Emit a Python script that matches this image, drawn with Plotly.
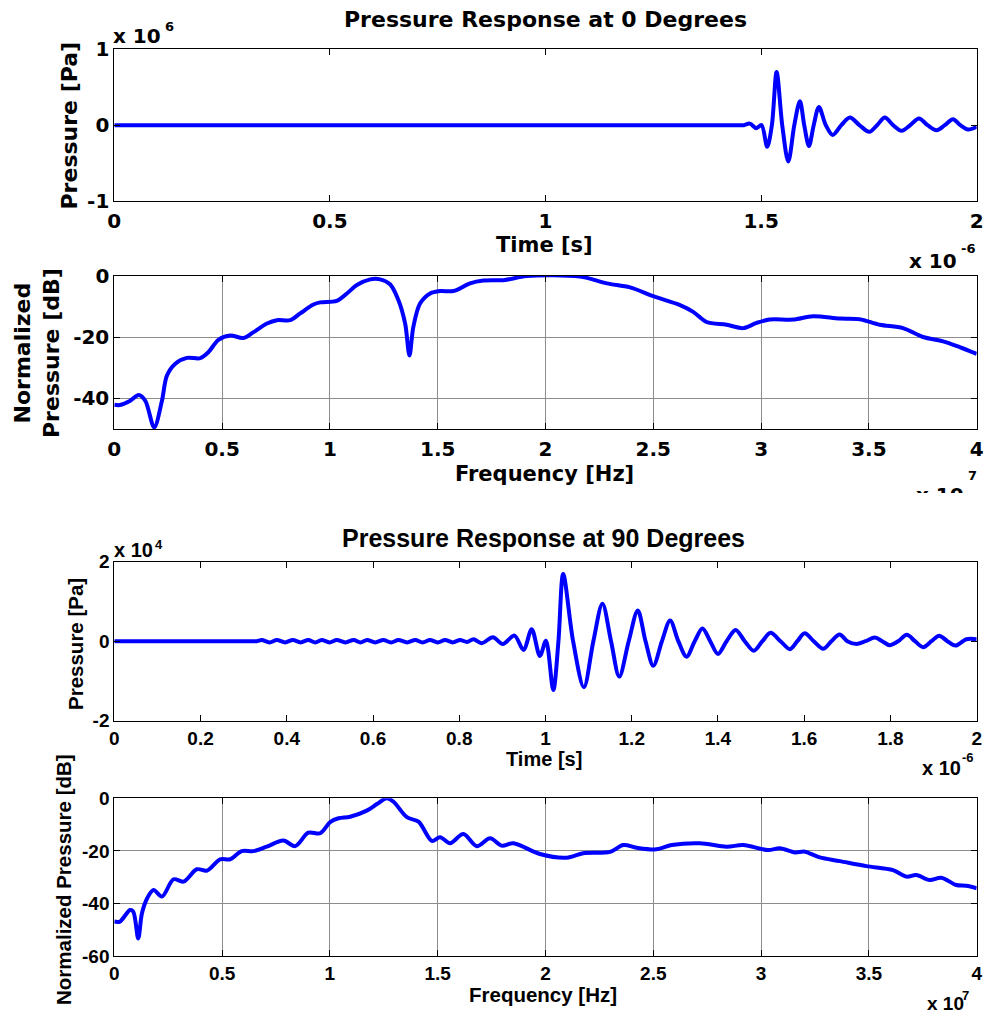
import plotly.graph_objects as go

W, H = 986, 1015

# ---- 0 degrees: time trace (time in 1e-6 s, pressure in 1e6 Pa) ----
t_0deg = [0, 0.4, 0.8, 1.2, 1.40, 1.45, 1.46, 1.474, 1.489, 1.501, 1.514, 1.525, 1.536,
          1.549, 1.563, 1.577, 1.590, 1.600, 1.611, 1.622, 1.634, 1.650, 1.666, 1.686,
          1.706, 1.728, 1.751, 1.769, 1.787, 1.806, 1.826, 1.846, 1.866, 1.886, 1.907,
          1.926, 1.945, 1.962, 1.980, 2.0]
p_0deg = [0, 0, 0, 0, 0, 0, 0, 0.02, -0.04, 0.0, -0.285, 0.0, 0.70,
          0.0, -0.48, 0.0, 0.316, 0.0, -0.276, 0.0, 0.24, 0.0, -0.13, 0.0,
          0.10, 0.0, -0.088, 0.0, 0.10, 0.0, -0.075, 0.0, 0.088, 0.0, -0.066,
          0.0, 0.079, 0.0, -0.057, -0.02]

# ---- 0 degrees: spectrum (frequency in 1e7 Hz) ----
f_0deg = [0, 0.026, 0.074, 0.113, 0.144, 0.185, 0.221, 0.244, 0.283, 0.337, 0.399, 0.437,
          0.483, 0.538, 0.599, 0.646, 0.708, 0.754, 0.816, 0.862, 0.924, 0.955, 1.032,
          1.079, 1.125, 1.187, 1.233, 1.279, 1.318, 1.349, 1.369, 1.387, 1.418, 1.465,
          1.511, 1.573, 1.650, 1.712, 1.812, 1.913, 2.160, 2.284, 2.392, 2.500, 2.624,
          2.685, 2.747, 2.840, 2.917, 2.979, 3.040, 3.149, 3.241, 3.365, 3.457, 3.550,
          3.658, 3.751, 3.844, 3.921, 4.0]
db_0deg = [-42.1, -42.2, -40.8, -38.9, -40.8, -49.5, -40.8, -32.6, -28.7, -26.8, -26.9, -24.9,
           -20.9, -19.5, -20.3, -18.4, -15.6, -14.5, -14.5, -12.3, -9.4, -8.7, -8.2,
           -5.8, -3.05, -1.2, -1.2, -2.8, -8.0, -15.6, -26.0, -16.7, -9.1, -5.8,
           -5.0, -5.0, -2.5, -1.6, -1.4, -0.1, -0.3, -2.5, -3.8, -6.7, -9.6,
           -11.8, -15.1, -16.0, -17.1, -15.4, -14.3, -14.3, -13.2, -14.0, -14.2, -16.0,
           -17.1, -20.0, -21.4, -23.3, -25.5]

# ---- 90 degrees: time trace (time in 1e-6 s, pressure in 1e4 Pa) ----
t_90deg = [0, 0.1, 0.2, 0.28, 0.31, 0.33, 0.342, 0.360, 0.377, 0.396, 0.414, 0.432, 0.450,
           0.466, 0.481, 0.499, 0.516, 0.536, 0.555, 0.571, 0.586, 0.605, 0.624, 0.642,
           0.659, 0.679, 0.698, 0.715, 0.732, 0.750, 0.767, 0.785, 0.802, 0.818, 0.833,
           0.852, 0.878, 0.901, 0.928, 0.949, 0.968, 0.987, 1.001, 1.018, 1.030, 1.041,
           1.064, 1.089, 1.111, 1.132, 1.152, 1.171, 1.193, 1.214, 1.232, 1.250, 1.270,
           1.289, 1.308, 1.327, 1.346, 1.364, 1.382, 1.400, 1.420, 1.441, 1.462, 1.483,
           1.503, 1.522, 1.545, 1.567, 1.584, 1.601, 1.622, 1.644, 1.663, 1.682, 1.700,
           1.721, 1.742, 1.764, 1.781, 1.798, 1.818, 1.838, 1.857, 1.876, 1.895, 1.913,
           1.932, 1.951, 1.976, 2.0]
p_90deg = [0, 0, 0, 0, 0, 0, 0.03, -0.03, 0.03, -0.03, 0.03, -0.03, 0.03,
           -0.03, 0.03, -0.03, 0.03, -0.03, 0.03, -0.03, 0.03, -0.03, 0.03, -0.03,
           0.03, -0.03, 0.03, -0.03, 0.03, -0.03, 0.03, -0.03, 0.03, -0.02, 0.05,
           -0.05, 0.10, -0.07, 0.14, -0.22, 0.30, -0.37, 0.01, -1.23, 0.0, 1.69,
           0.0, -1.16, 0.0, 0.94, 0.0, -0.89, 0.0, 0.77, 0.0, -0.62, 0.0,
           0.52, 0.0, -0.39, 0.0, 0.32, 0.0, -0.32, 0.0, 0.28, 0.0, -0.24,
           0.0, 0.21, 0.0, -0.20, 0.0, 0.20, 0.0, -0.19, 0.0, 0.17, 0.0,
           -0.07, 0.0, 0.09, 0.0, -0.10, 0.0, 0.16, 0.0, -0.15, 0.0, 0.14,
           0.0, -0.11, 0.05, 0.05]

# ---- 90 degrees: spectrum (frequency in 1e7 Hz) ----
f_90deg = [0, 0.026, 0.073, 0.088, 0.111, 0.128, 0.152, 0.182, 0.221, 0.275, 0.321, 0.383,
           0.430, 0.491, 0.537, 0.591, 0.645, 0.707, 0.784, 0.839, 0.900, 0.955, 1.001,
           1.040, 1.094, 1.171, 1.218, 1.264, 1.295, 1.357, 1.411, 1.473, 1.511, 1.557,
           1.619, 1.681, 1.743, 1.797, 1.851, 1.974, 2.098, 2.175, 2.299, 2.361, 2.423,
           2.515, 2.585, 2.716, 2.840, 2.917, 3.033, 3.087, 3.157, 3.203, 3.272, 3.365,
           3.488, 3.612, 3.674, 3.720, 3.782, 3.836, 3.905, 3.951, 4.0]
db_90deg = [-46.9, -46.9, -42.5, -43.1, -53.3, -43.8, -38.1, -34.9, -37.4, -30.8, -31.7, -27.0,
            -27.5, -23.2, -23.2, -20.1, -20.1, -18.4, -16.1, -18.2, -13.1, -13.3, -9.1,
            -7.6, -7.0, -4.7, -2.2, 0.0, -1.3, -7.2, -8.9, -16.2, -14.8, -17.1,
            -13.6, -18.2, -15.2, -18.0, -17.1, -21.2, -22.6, -20.9, -20.4, -17.8, -18.8,
            -19.4, -17.8, -17.1, -18.4, -17.8, -19.7, -19.0, -20.6, -20.3, -22.5, -23.9,
            -25.8, -27.3, -29.8, -29.2, -31.1, -30.2, -33.0, -33.3, -34.2]

# tick values / labels
time_ticks_0 = [0, 0.5, 1, 1.5, 2]
time_labels_0 = ["0", "0.5", "1", "1.5", "2"]
freq_ticks = [0, 0.5, 1, 1.5, 2, 2.5, 3, 3.5, 4]
freq_labels = ["0", "0.5", "1", "1.5", "2", "2.5", "3", "3.5", "4"]
time_ticks_90 = [0, 0.2, 0.4, 0.6, 0.8, 1, 1.2, 1.4, 1.6, 1.8, 2]
time_labels_90 = ["0", "0.2", "0.4", "0.6", "0.8", "1", "1.2", "1.4", "1.6", "1.8", "2"]

TOP_FONT = "DejaVu Sans"
BOT_FONT = "Liberation Sans"
BLUE = "#0000ff"


def px(x):
    return x / W


def py(y):
    return 1 - y / H


panels = [
    dict(x=t_0deg, y=p_0deg, ytop=49.3, ybot=201.0, xr=[0, 2], yr=[-1, 1],
         xt=time_ticks_0, xl=time_labels_0, yt=[-1, 0, 1], yl=["-1", "0", "1"],
         grid=False, font=TOP_FONT, fs=20, xstand=2),
    dict(x=f_0deg, y=db_0deg, ytop=275.7, ybot=429.0, xr=[0, 4], yr=[-50, 0],
         xt=freq_ticks, xl=freq_labels, yt=[-40, -20, 0], yl=["-40", "-20", "0"],
         grid=True, font=TOP_FONT, fs=20, xstand=2),
    dict(x=t_90deg, y=p_90deg, ytop=561.7, ybot=720.7, xr=[0, 2], yr=[-2, 2],
         xt=time_ticks_90, xl=time_labels_90, yt=[-2, 0, 2], yl=["-2", "0", "2"],
         grid=False, font=BOT_FONT, fs=19, xstand=0),
    dict(x=f_90deg, y=db_90deg, ytop=798.3, ybot=956.0, xr=[0, 4], yr=[-60, 0],
         xt=freq_ticks, xl=freq_labels, yt=[-60, -40, -20, 0], yl=["-60", "-40", "-20", "0"],
         grid=True, font=BOT_FONT, fs=19, xstand=0),
]

fig = go.Figure()
layout = dict(
    template="none",
    width=W, height=H,
    margin=dict(l=0, r=0, t=0, b=0, pad=0),
    paper_bgcolor="white", plot_bgcolor="white",
    showlegend=False,
)

x_dom = [px(114.3), px(976.7)]
for i, p in enumerate(panels, start=1):
    xa = "x" if i == 1 else f"x{i}"
    ya = "y" if i == 1 else f"y{i}"
    fig.add_trace(go.Scatter(
        x=p["x"], y=p["y"], mode="lines", xaxis=xa, yaxis=ya,
        line=dict(color=BLUE, width=4, shape="spline", smoothing=0.9),
        hoverinfo="skip",
    ))
    tickfont = dict(family=p["font"], size=p["fs"], color="black", weight="bold")
    common = dict(
        showline=True, linecolor="black", linewidth=1, mirror="ticks",
        ticks="inside", ticklen=6, tickwidth=1, tickcolor="black",
        showgrid=p["grid"], gridcolor="#8c8c8c", gridwidth=1,
        zeroline=False, tickfont=tickfont, fixedrange=True, automargin=False,
    )
    layout["xaxis" if i == 1 else f"xaxis{i}"] = dict(
        domain=x_dom, range=p["xr"], tickvals=p["xt"], ticktext=p["xl"],
        anchor=ya, ticklabelstandoff=p["xstand"], **common)
    layout["yaxis" if i == 1 else f"yaxis{i}"] = dict(
        domain=[py(p["ybot"]), py(p["ytop"])], range=p["yr"],
        tickvals=p["yt"], ticktext=p["yl"], anchor=xa, **common)

fig.update_layout(**layout)


def label(text, x, y, family, size, angle=0, xanchor="center", yanchor="middle", **kw):
    fig.add_annotation(
        text=text, x=px(x), y=py(y), xref="paper", yref="paper",
        showarrow=False, textangle=angle, xanchor=xanchor, yanchor=yanchor,
        font=dict(family=family, size=size, color="black", weight="bold"), **kw)


# 0-degree figure texts
label("Pressure Response at 0 Degrees", 545, 20, TOP_FONT, 22)
label("x 10", 111, 36, TOP_FONT, 20, xanchor="left")
label("6", 163, 26, TOP_FONT, 13, xanchor="left")
label("Pressure [Pa]", 69, 125.5, TOP_FONT, 22, angle=-90)
label("Time [s]", 544, 245, TOP_FONT, 21)
label("x 10", 907, 261, TOP_FONT, 20, xanchor="left")
label("-6", 959, 248, TOP_FONT, 13, xanchor="left")
label("Normalized<br>Pressure [dB]", 37, 353, TOP_FONT, 22, angle=-90)
label("Frequency [Hz]", 544, 474, TOP_FONT, 21)
label("x 10", 914, 481, TOP_FONT, 20, xanchor="left", yanchor="top",
      height=10, valign="top")
label("7", 966, 475, TOP_FONT, 13, xanchor="left")

# 90-degree figure texts
label("Pressure Response at 90 Degrees", 543, 538, BOT_FONT, 25)
label("x 10", 112, 550, BOT_FONT, 20, xanchor="left")
label("4", 153, 544, BOT_FONT, 13, xanchor="left")
label("Pressure [Pa]", 75, 644, BOT_FONT, 20.5, angle=-90)
label("Time [s]", 544, 759, BOT_FONT, 20)
label("x 10", 920, 768, BOT_FONT, 20, xanchor="left")
label("-6", 960, 757, BOT_FONT, 13, xanchor="left")
label("Normalized Pressure [dB]", 63, 880, BOT_FONT, 20.5, angle=-90)
label("Frequency [Hz]", 543, 994, BOT_FONT, 20.5)
label("x 10", 925, 1003, BOT_FONT, 19, xanchor="left")
label("7", 960, 995, BOT_FONT, 13, xanchor="left")

fig.write_html("out.html")
